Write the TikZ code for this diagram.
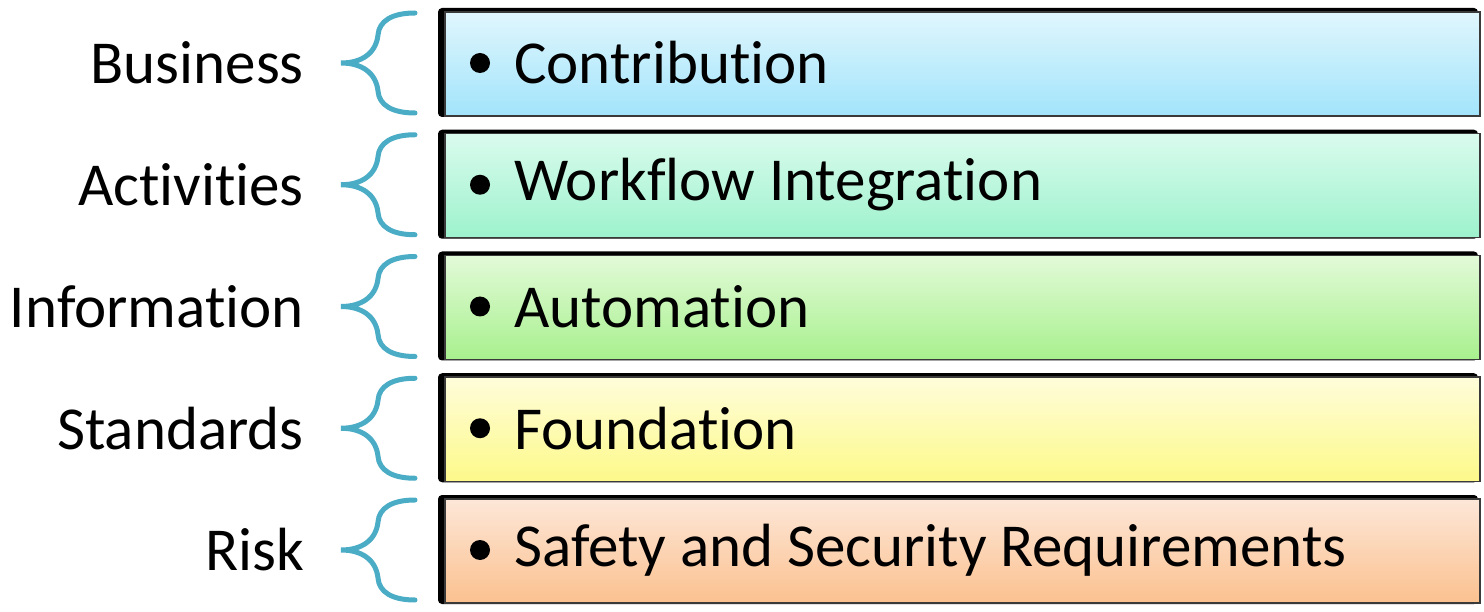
\documentclass[tikz,border=0pt]{standalone}
\usepackage{fontspec}
\setmainfont{Carlito}[RawFeature=-liga]
\definecolor{bracec}{HTML}{4BACC6}
\definecolor{edgec}{HTML}{3A3A3A}
\definecolor{t1}{HTML}{E0F6FD}\definecolor{b1}{HTML}{A2E4FB}
\definecolor{t2}{HTML}{DAFBEE}\definecolor{b2}{HTML}{9DF2CC}
\definecolor{t3}{HTML}{E2FAD8}\definecolor{b3}{HTML}{A8F08E}
\definecolor{t4}{HTML}{FEFDDA}\definecolor{b4}{HTML}{FDF98A}
\definecolor{t5}{HTML}{FDE7D8}\definecolor{b5}{HTML}{FBC18F}
\tikzset{
  lbl/.style={anchor=east, inner sep=0pt, font=\fontsize{61}{73}\selectfont},
  itemtxt/.style={anchor=west, inner sep=0pt, font=\fontsize{61}{73}\selectfont},
  bracestyle/.style={draw=bracec, line width=5pt, line cap=round},
  shadowbox/.style={fill=black, rounded corners=4pt},
  fillbox/.style={draw=edgec, line width=1.5pt},
  bulletdot/.style={circle, fill=black, inner sep=0pt, minimum size=20pt},
}
\begin{document}
\begin{tikzpicture}[x=1pt,y=-1pt]
\useasboundingbox (0,0) rectangle (1484,612);
\foreach \i/\lab/\item/\tc/\bc in {0/Business/Contribution/t1/b1, 1/Activities/Workflow Integration/t2/b2, 2/Information/Automation/t3/b3, 3/Standards/Foundation/t4/b4, 4/Risk/Safety and Security Requirements/t5/b5}{
  \pgfmathsetmacro{\c}{63+121.75*\i}
  % shadow and box
  \fill[shadowbox] (438,\c-55) rectangle (1478,\c+54);
  \shade[top color=\tc, bottom color=\bc] (445,\c-51) rectangle (1480,\c+53);
  \draw[fillbox] (445,\c-51) rectangle (1480,\c+53);
  \node[bulletdot] (dot\i) at (480,\c) {};
  \node[itemtxt] (item\i) at (514,\c) {\item};
  \node[lbl] (lab\i) at (304,\c) {\lab};
  % brace
  \draw[bracestyle] (415,\c-50) .. controls (392,\c-50) and (379,\c-42) .. (378,\c-28)
     .. controls (376,\c-10) and (362,\c) .. (341,\c)
     .. controls (362,\c) and (376,\c+10) .. (378,\c+28)
     .. controls (379,\c+42) and (392,\c+50) .. (415,\c+50);
}
\end{tikzpicture}
\end{document}
